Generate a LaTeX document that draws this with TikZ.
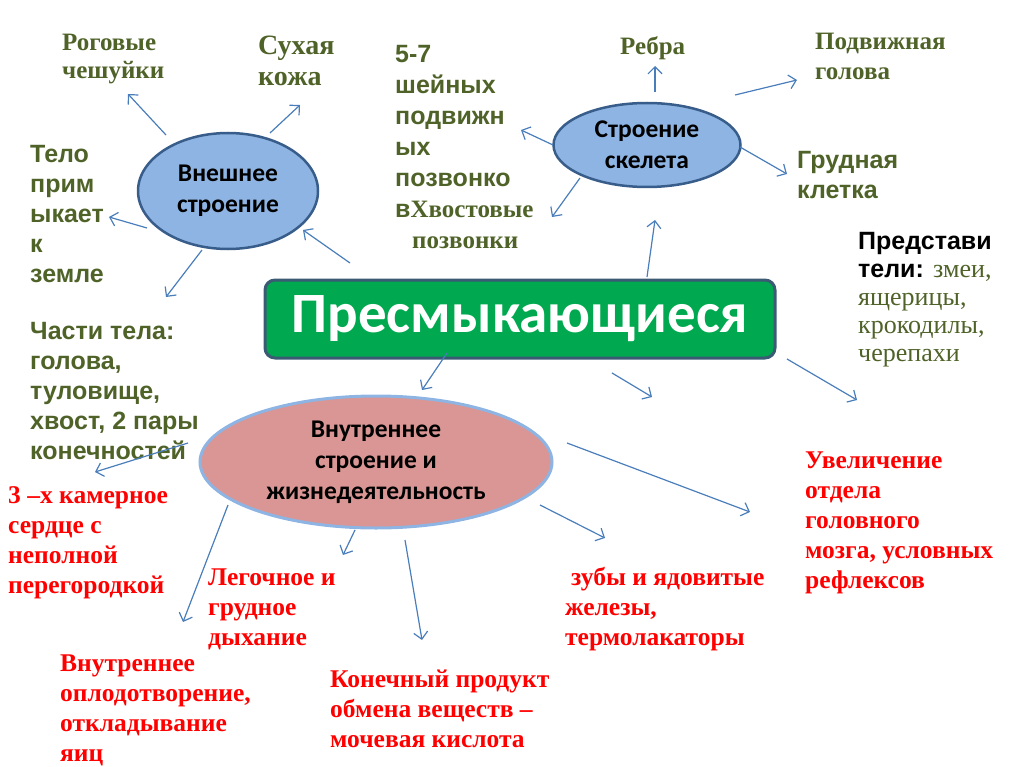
\documentclass[tikz,border=0pt]{standalone}
\usepackage{fontspec}
\setmainfont{Liberation Serif}
\setsansfont{Liberation Sans}
\newfontfamily\calibrifont{Carlito}
\usetikzlibrary{shapes.geometric,arrows.meta}

\definecolor{leafgreen}{HTML}{4F6228}
\definecolor{factred}{HTML}{FF0000}
\definecolor{arrowblue}{HTML}{4A7EBB}
\definecolor{ovalblue}{HTML}{8EB4E3}
\definecolor{ovalrim}{HTML}{385D8A}
\definecolor{ovalpink}{HTML}{D99694}
\definecolor{titlegreen}{HTML}{00A94F}
\definecolor{titlerim}{HTML}{3B5B74}

\newcommand\fs[2]{\fontsize{#1}{#2}\selectfont}
\newcommand\kinds[1]{{\rmfamily\mdseries\fs{26}{28}\color{leafgreen}#1}}

\begin{document}
\begin{tikzpicture}[
  x=1pt,
  y=-1pt,
  link/.style={draw=arrowblue,line width=1.2pt,
    -{Straight Barb[length=7pt,width=14pt,line width=1.2pt]}},
  textblock/.style={align=left,inner sep=0pt,anchor=north west},
  greenserif/.style={textblock,text=leafgreen,font=\bfseries\fs{25}{#1}},
  greenserif/.default=30,
  greensans/.style={textblock,text=leafgreen,font=\sffamily\bfseries\fs{25}{#1}},
  greensans/.default=30,
  redserif/.style={textblock,text=factred,font=\bfseries\fs{25.5}{#1}},
  redserif/.default=30,
  oval/.style={ellipse,inner sep=0pt,align=center,
    font=\calibrifont\bfseries\fs{25.5}{31}}
]
  % Slide frame, 1024 x 767 px.
  \useasboundingbox (0,0) rectangle (1024,767);

  % Central title and the three topic ovals.
  \node[draw=titlerim,line width=3pt,fill=titlegreen,rounded corners=10pt,
    minimum width=510pt,minimum height=78pt,text=white,
    font=\calibrifont\bfseries\fs{57}{60}] (reptiles) at (520,319) {Пресмыкающиеся};
  \node[oval,draw=ovalrim,line width=2.5pt,fill=ovalblue,
    minimum width=180pt,minimum height=116pt] (outer) at (228,191)
    {Внешнее\\строение};
  \node[oval,draw=ovalrim,line width=2.5pt,fill=ovalblue,
    minimum width=187pt,minimum height=84pt] (skeleton) at (647,145)
    {Строение\\скелета};
  \node[oval,draw=ovalblue,line width=3pt,fill=ovalpink,
    minimum width=352pt,minimum height=132pt] (inner) at (376,462)
    {Внутреннее\\строение и\\жизнедеятельность};

  % External features (green).
  \node[greenserif=28] (scales) at (62,34) {Роговые\\чешуйки};
  \node[greenserif,font=\bfseries\fs{28}{31}] (dryskin) at (258,36) {Сухая\\кожа};
  \node[greensans] (body) at (30,145) {Тело\\прим\\ыкает\\к\\земле};
  \node[greensans] (parts) at (30,322)
    {Части тела:\\голова,\\туловище,\\хвост, 2 пары\\конечностей};

  % Skeleton features (green).
  \node[greensans=31] (neck) at (395,45)
    {5-7\\шейных\\подвижн\\ых\\позвонко\\в{\rmfamily Хвостовые}\\
     \hspace*{17pt}{\rmfamily позвонки}};
  \node[greenserif] (ribs) at (620,36) {Ребра};
  \node[greenserif] (head) at (815,33) {Подвижная\\голова};
  \node[greensans] (chest) at (797,151) {Грудная\\клетка};

  % Representatives.
  \node[textblock,text=black,font=\sffamily\bfseries\fs{25}{28}] (members) at (858,232)
    {Представи\\тели: \kinds{змеи,}\\\kinds{ящерицы,}\\\kinds{крокодилы,}\\\kinds{черепахи}};

  % Internal features (red).
  \node[redserif] (heart) at (8,486)
    {3 –х камерное\\сердце с\\неполной\\перегородкой};
  \node[redserif] (lungs) at (208,569) {Легочное и\\грудное\\дыхание};
  \node[redserif] (fertil) at (60,655)
    {Внутреннее\\оплодотворение,\\откладывание\\яиц};
  \node[redserif] (product) at (330,670)
    {Конечный продукт\\обмена веществ –\\мочевая кислота};
  \node[redserif] (teeth) at (565,567)
    {\hspace*{6pt}зубы и ядовитые\\железы,\\термолакаторы};
  \node[redserif] (brain) at (805,452)
    {Увеличение\\отдела\\головного\\мозга, условных\\рефлексов};

  % Arrow ends around the ovals and the title.
  \coordinate (outerScales) at (166,135);   \coordinate (scalesTip) at (128,94);
  \coordinate (outerSkin) at (270,133);     \coordinate (skinTip) at (300,105);
  \coordinate (outerBody) at (147,228);     \coordinate (bodyTip) at (109,217);
  \coordinate (outerParts) at (202,250);    \coordinate (partsTip) at (166,297);
  \coordinate (titleOuter) at (350,263);    \coordinate (outerTip) at (303,230);
  \coordinate (skelNeck) at (553,145);      \coordinate (neckTip) at (521,130);
  \coordinate (skelTail) at (580,178);      \coordinate (tailTip) at (552,217);
  \coordinate (skelRibs) at (655,92);       \coordinate (ribsTip) at (655,66);
  \coordinate (skelHead) at (735,95);       \coordinate (headTip) at (797,80);
  \coordinate (skelChest) at (740,147);     \coordinate (chestTip) at (787,174);
  \coordinate (titleSkel) at (647,277);     \coordinate (skelTip) at (655,220);
  \coordinate (titleRight) at (787,359);    \coordinate (rightTip) at (857,400);
  \coordinate (titleMid) at (612,373);      \coordinate (midTip) at (652,397);
  \coordinate (titleInner) at (447,353);    \coordinate (innerTip) at (422,390);
  \coordinate (innerBrain) at (567,443);    \coordinate (brainTip) at (750,512);
  \coordinate (innerTeeth) at (540,505);    \coordinate (teethTip) at (605,538);
  \coordinate (innerProduct) at (405,540);  \coordinate (productTip) at (422,640);
  \coordinate (innerLungs) at (355,530);    \coordinate (lungsTip) at (343,555);
  \coordinate (innerFertil) at (228,505);   \coordinate (fertilTip) at (183,622);
  \coordinate (innerHeart) at (188,443);    \coordinate (heartTip) at (95,472);

  % Thin blue arrows.
  \draw[link] (outerScales) -- (scalesTip);
  \draw[link] (outerSkin) -- (skinTip);
  \draw[link] (outerBody) -- (bodyTip);
  \draw[link] (outerParts) -- (partsTip);
  \draw[link] (titleOuter) -- (outerTip);
  \draw[link] (skelNeck) -- (neckTip);
  \draw[link] (skelTail) -- (tailTip);
  \draw[link] (skelRibs) -- (ribsTip);
  \draw[link] (skelHead) -- (headTip);
  \draw[link] (skelChest) -- (chestTip);
  \draw[link] (titleSkel) -- (skelTip);
  \draw[link] (titleRight) -- (rightTip);
  \draw[link] (titleMid) -- (midTip);
  \draw[link] (titleInner) -- (innerTip);
  \draw[link] (innerBrain) -- (brainTip);
  \draw[link] (innerTeeth) -- (teethTip);
  \draw[link] (innerProduct) -- (productTip);
  \draw[link] (innerLungs) -- (lungsTip);
  \draw[link] (innerFertil) -- (fertilTip);
  \draw[link] (innerHeart) -- (heartTip);
\end{tikzpicture}
\end{document}
